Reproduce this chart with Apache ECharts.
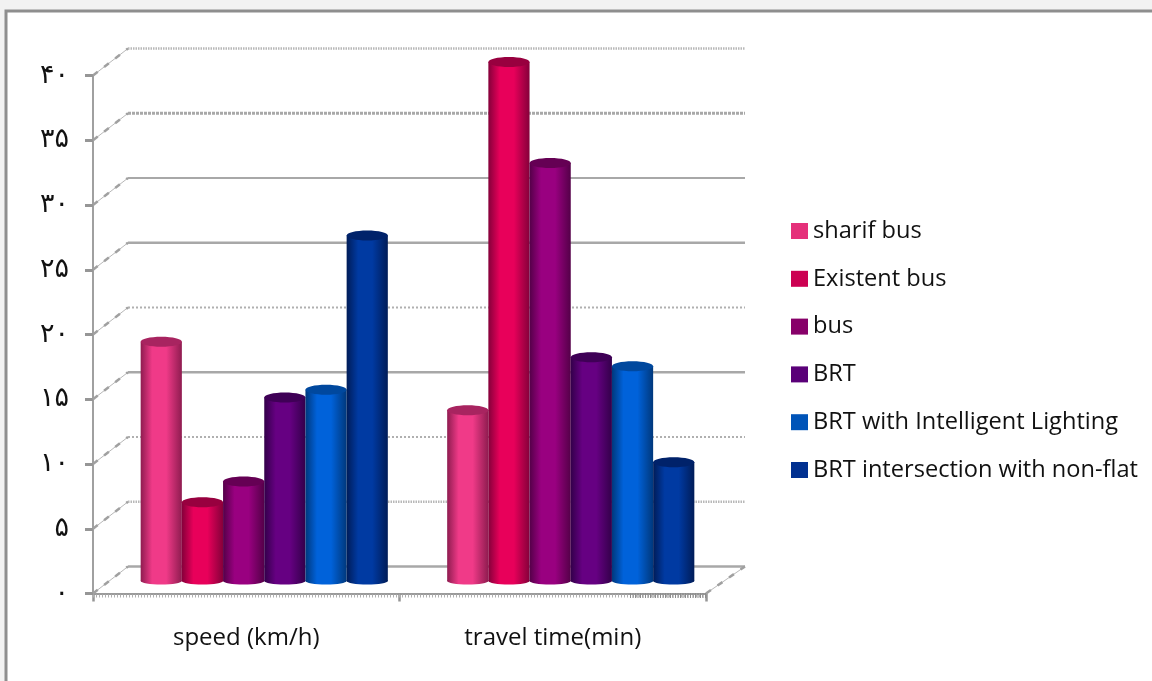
<!DOCTYPE html>
<html>
<head>
<meta charset="utf-8">
<style>
  html, body { margin: 0; padding: 0; background: #f2f2f2; }
  #chart { width: 1152px; height: 681px; }
</style>
<script src="https://cdn.jsdelivr.net/npm/echarts@6/dist/echarts.min.js"></script>
</head>
<body>
<div id="chart"></div>
<script>
// Categories and values
const categories = ['speed (km/h)', 'travel time(min)'];
const seriesNames = ['sharif bus', 'Existent bus', 'bus', 'BRT', 'BRT with Intelligent Lighting', 'BRT intersection with non-flat'];
const sharifBus = [18.4, 13.1];
const existentBus = [6.0, 40.0];
const bus = [7.6, 32.2];
const brt = [14.1, 17.2];
const brtLighting = [14.7, 16.5];
const brtNonFlat = [26.6, 9.1];
const yTicks = [0, 5, 10, 15, 20, 25, 30, 35, 40];
const yTickLabels = ['۰', '۵', '۱۰', '۱۵', '۲۰', '۲۵', '۳۰', '۳۵', '۴۰'];

// Cylinder shading: legend swatch, body edge, body centre, top cap
const swatchColors = ['#e5307a', '#cc0052', '#870069', '#5a0078', '#0054b8', '#003090'];
const edgeColors = ['#8f1c50', '#85003a', '#540048', '#33004a', '#00387c', '#001c58'];
const centreColors = ['#f03a88', '#e8005a', '#990080', '#660082', '#0062da', '#003aa2'];
const capColors = ['#a82460', '#98003f', '#650054', '#3f0056', '#00489e', '#00226a'];

const allValues = [sharifBus, existentBus, bus, brt, brtLighting, brtNonFlat];

// Oblique projection of the box: back wall and the plane the bars stand on
const DEPTH_X = 35, DEPTH_X_RIGHT = 39, DEPTH_Y = -27;
const BAR_SHIFT_X = 18, BAR_SHIFT_Y = -13.5, CAP_RY = 5, BASE_RY = 3.5;
const GRID_COLOR = '#a8a8a8';
const gridLook = {
  0: { lineWidth: 2.5, lineDash: null },
  5: { lineWidth: 2.5, lineDash: [1.5, 1], stroke: '#b8b8b8' },
  10: { lineWidth: 2, lineDash: [2, 2], stroke: '#b0b0b0' },
  15: { lineWidth: 2.5, lineDash: null },
  20: { lineWidth: 2, lineDash: [2, 2], stroke: '#b0b0b0' },
  25: { lineWidth: 2.5, lineDash: null },
  30: { lineWidth: 2, lineDash: null },
  35: { lineWidth: 3, lineDash: [3, 1] },
  40: { lineWidth: 2.5, lineDash: [1.5, 1], stroke: '#b8b8b8' }
};

// Side-wall edge: a thin rule with heavier blotches along it
function sideEdge(x1, y1, x2, y2) {
  return [
    { type: 'line', shape: { x1, y1, x2, y2 }, style: { stroke: '#b8b8b8', lineWidth: 1 } },
    { type: 'line', shape: { x1, y1, x2, y2 }, style: { stroke: '#a0a0a0', lineWidth: 2.5, lineDash: [6, 8] } }
  ];
}

function renderGridLine(params, api) {
  const tick = api.value(1);
  const p = api.coord([0, tick]);
  const cs = params.coordSys;
  const look = gridLook[tick];
  const style = { stroke: look.stroke || GRID_COLOR, lineWidth: look.lineWidth, lineDash: look.lineDash, fill: null };
  const x0 = cs.x, x1 = cs.x + cs.width, y = p[1];
  const backY = y + DEPTH_Y;
  const children = [
    ...sideEdge(x0, y, x0 + DEPTH_X, backY),
    { type: 'line', shape: { x1: x0 + DEPTH_X, y1: backY, x2: x1 + DEPTH_X_RIGHT, y2: backY }, style }
  ];
  if (tick === 0) {
    // Right edge of the floor and the toothed front rail
    children.push(...sideEdge(x1, y, x1 + DEPTH_X_RIGHT, backY));
    children.push({ type: 'line', shape: { x1: x0, y1: y + 2.5, x2: x1, y2: y + 2.5 },
      style: { stroke: '#b0b0b0', lineWidth: 3, lineDash: [1, 2] } });
    children.push({ type: 'line', shape: { x1: x1 - 76, y1: y + 2, x2: x1, y2: y + 2 },
      style: { stroke: '#8c8c8c', lineWidth: 5, lineDash: [1, 1.5] } });
  }
  return { type: 'group', children };
}

function cylinderRenderer(seriesIndex) {
  return function (params, api) {
    const base = api.coord([api.value(0), 0]);
    const top = api.coord([api.value(0), api.value(1)]);
    const width = api.size([1, 0])[0] * 0.1344;
    const cx = base[0] + BAR_SHIFT_X + (seriesIndex - 2.5) * width;
    const rx = width / 2;
    const yBase = base[1] + BAR_SHIFT_Y + 1;
    const yTop = top[1] + BAR_SHIFT_Y;
    const fill = new echarts.graphic.LinearGradient(0, 0, 1, 0, [
      { offset: 0, color: edgeColors[seriesIndex] },
      { offset: 0.28, color: centreColors[seriesIndex] },
      { offset: 0.62, color: centreColors[seriesIndex] },
      { offset: 1, color: edgeColors[seriesIndex] }
    ]);
    return {
      type: 'group',
      children: [
        { type: 'ellipse', shape: { cx, cy: yBase, rx, ry: BASE_RY }, style: { fill } },
        { type: 'rect', shape: { x: cx - rx, y: yTop, width: width, height: yBase - yTop }, style: { fill } },
        { type: 'ellipse', shape: { cx, cy: yTop, rx, ry: CAP_RY }, style: { fill: capColors[seriesIndex] } }
      ]
    };
  };
}

const chart = echarts.init(document.getElementById('chart'), null, { renderer: 'canvas' });

const barSeries = allValues.map((values, i) => ({
  name: seriesNames[i],
  type: 'custom',
  coordinateSystem: 'cartesian2d',
  clip: false,
  z: 5,
  itemStyle: { color: swatchColors[i] },
  encode: { x: 0, y: 1 },
  renderItem: cylinderRenderer(i),
  data: values.map((v, c) => [c, v])
}));

chart.setOption({
  animation: false,
  backgroundColor: '#f2f2f2',
  textStyle: { fontFamily: '"Open Sans", sans-serif' },
  graphic: [
    { type: 'rect', z: -10, silent: true,
      shape: { x: 6, y: 11, width: 1160, height: 690 },
      style: { fill: '#ffffff', stroke: '#8e8e8e', lineWidth: 3 } }
  ],
  grid: { left: 93, top: 75.5, width: 613, height: 518 },
  xAxis: {
    type: 'category',
    data: categories,
    axisLine: { lineStyle: { color: '#9a9a9a', width: 2 } },
    axisTick: { show: true, length: 8, lineStyle: { color: '#969696', width: 2.5 } },
    axisLabel: { color: '#111111', fontSize: 24, fontFamily: '"Open Sans"', margin: 33 }
  },
  yAxis: {
    type: 'value',
    min: 0,
    max: 40,
    interval: 5,
    splitLine: { show: false },
    axisLine: { show: true, lineStyle: { color: '#a0a0a0', width: 2 } },
    axisTick: { show: true, length: 8, lineStyle: { color: '#969696', width: 3 } },
    axisLabel: {
      color: '#111111', fontSize: 27, fontFamily: '"DejaVu Sans"', margin: 24,
      formatter: (v) => yTickLabels[yTicks.indexOf(v)]
    }
  },
  legend: {
    orient: 'vertical',
    left: 786,
    top: 214,
    data: seriesNames,
    icon: 'rect',
    itemWidth: 17,
    itemHeight: 16,
    itemGap: 23.8,
    selectedMode: false,
    textStyle: { color: '#111111', fontSize: 23.6, fontFamily: '"Open Sans"', lineHeight: 20 },
    formatter: (name) => name
  },
  series: [
    {
      type: 'custom',
      coordinateSystem: 'cartesian2d',
      clip: false,
      z: 1,
      silent: true,
      encode: { x: 0, y: 1 },
      renderItem: renderGridLine,
      data: yTicks.map((t) => [0, t])
    },
    ...barSeries
  ]
});
</script>
</body>
</html>
